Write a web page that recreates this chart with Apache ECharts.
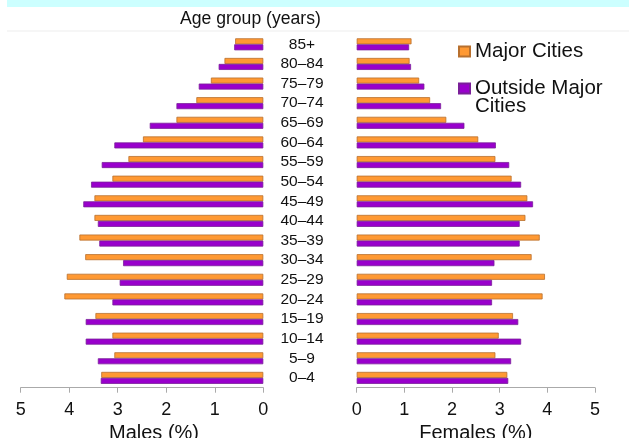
<!DOCTYPE html>
<html>
<head>
<meta charset="utf-8">
<script src="https://cdn.jsdelivr.net/npm/echarts@6/dist/echarts.min.js"></script>
<style>html,body{margin:0;padding:0;background:#fff}#c{width:629px;height:438px}</style>
</head>
<body>
<div id="c"></div>
<script>
var ageGroups = ["85+","80–84","75–79","70–74","65–69","60–64","55–59","50–54","45–49","40–44","35–39","30–34","25–29","20–24","15–19","10–14","5–9","0–4"];
var maleMajor   = [0.58,0.80,1.08,1.38,1.79,2.48,2.78,3.11,3.48,3.48,3.79,3.67,4.05,4.10,3.46,3.11,3.07,3.34];
var maleOutside = [0.60,0.92,1.33,1.79,2.34,3.07,3.33,3.55,3.71,3.41,3.38,2.89,2.96,3.11,3.66,3.66,3.41,3.35];
var femaleMajor   = [1.15,1.11,1.31,1.54,1.88,2.55,2.91,3.25,3.58,3.54,3.84,3.67,3.95,3.90,3.28,2.98,2.91,3.16];
var femaleOutside = [1.10,1.14,1.42,1.77,2.26,2.92,3.20,3.45,3.70,3.42,3.42,2.89,2.84,2.84,3.39,3.45,3.24,3.18];
var xTicks = [0,1,2,3,4,5];
var seriesNames = ["Major Cities","Outside Major Cities"];

var FONT = "Liberation Sans";
var ORANGE = "#ff9933", PURPLE = "#9900cc";
var chart = echarts.init(document.getElementById('c'), null, {renderer:'canvas'});

function xAx(gridIndex, inverse, name, pad) {
  return {
    type:'value', gridIndex:gridIndex, inverse:inverse,
    min:xTicks[0], max:xTicks[xTicks.length-1], interval:1,
    splitLine:{show:false},
    axisLine:{show:true, lineStyle:{color:'#aaaaaa', width:1}},
    axisTick:{show:true, length:5, lineStyle:{color:'#aaaaaa'}},
    axisLabel:{fontFamily:FONT, fontSize:18, color:'#111', margin:13},
    name:name, nameLocation:'middle', nameGap:34,
    nameTextStyle:{fontFamily:FONT, fontSize:20, color:'#111', padding:pad}
  };
}
function barS(name, data, xi, yi, color, border) {
  return {
    name:name, type:'bar', xAxisIndex:xi, yAxisIndex:yi, data:data,
    barWidth:6, barGap:'0%',
    itemStyle:{color:color, borderColor:border, borderWidth:0.8},
    animation:false
  };
}

chart.setOption({
  animation:false,
  backgroundColor:'#ffffff',
  title:{text:'Age group (years)', left:180, top:10, padding:0,
    textStyle:{fontFamily:FONT, fontSize:17.6, fontWeight:'normal', color:'#111'}},
  legend:{
    orient:'vertical', left:458, top:41, padding:0, itemWidth:11, itemHeight:10, itemGap:-2,
    icon:'rect', data:seriesNames,
    formatter:function(n){ return n === seriesNames[1] ? '\nOutside Major\nCities' : n; },
    textStyle:{fontFamily:FONT, fontSize:20.5, color:'#111', lineHeight:18}
  },
  graphic:[
    {type:'rect', shape:{x:7,y:0,width:622,height:7}, style:{fill:'#ccffff'}, silent:true},
    {type:'rect', shape:{x:7,y:30.5,width:622,height:1}, style:{fill:'#eeeeee'}, silent:true}
  ],
  grid:[
    {left:20.7, right:365.7, top:34.5, bottom:50.3, outerBoundsMode:'none', containLabel:false},
    {left:356.7, right:34, top:34.5, bottom:50.3, outerBoundsMode:'none', containLabel:false}
  ],
  xAxis:[
    xAx(0, true, 'Males (%)', [0,0,0,24]),
    xAx(1, false, 'Females (%)', [0,0,0,0])
  ],
  yAxis:[
    {type:'category', gridIndex:0, data:ageGroups, inverse:true,
     axisLine:{show:false}, axisTick:{show:false}, axisLabel:{show:false}},
    {type:'category', gridIndex:1, data:ageGroups, inverse:true,
     axisLine:{show:false}, axisTick:{show:false},
     axisLabel:{interval:0, fontFamily:FONT, fontSize:15.5, color:'#111', align:'center', margin:54.7}}
  ],
  series:[
    barS(seriesNames[0], maleMajor, 0, 0, ORANGE, '#b8702e'),
    barS(seriesNames[1], maleOutside, 0, 0, PURPLE, '#7a1f99'),
    barS(seriesNames[0], femaleMajor, 1, 1, ORANGE, '#b8702e'),
    barS(seriesNames[1], femaleOutside, 1, 1, PURPLE, '#7a1f99')
  ]
});
</script>
</body>
</html>
